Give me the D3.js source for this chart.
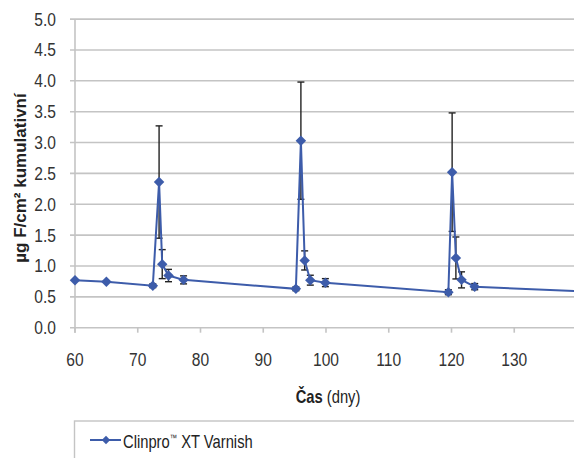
<!DOCTYPE html>
<html>
<head>
<meta charset="utf-8">
<script src="https://cdn.jsdelivr.net/npm/d3@7"></script>
<style>
  body { margin: 0; background: #fff; }
  svg { display: block; font-family: "Liberation Sans", Arial, sans-serif; }
</style>
</head>
<body>
<div id="chart"></div>
<script>
// days after start, cumulative fluoride (ug F/cm2), error (+/-)
const days = [60, 65, 72.4, 73.4, 73.9, 74.9, 77.3, 95.2, 96.0, 96.6, 97.5, 99.9, 119.5, 120.1, 120.7, 121.6, 123.7, 147]
const values = [0.77, 0.745, 0.68, 2.36, 1.03, 0.845, 0.775, 0.63, 3.03, 1.09, 0.77, 0.73, 0.575, 2.52, 1.13, 0.775, 0.665, 0.56]
const errors = [0, 0, 0.03, 0.91, 0.235, 0.1, 0.065, 0.03, 0.95, 0.155, 0.08, 0.065, 0.04, 0.96, 0.34, 0.13, 0.05, 0]
const yTicks = [0, 0.5, 1, 1.5, 2, 2.5, 3, 3.5, 4, 4.5, 5]
const xTicks = [60, 70, 80, 90, 100, 110, 120, 130]
const seriesName = "Clinpro\u2122 XT Varnish"

const WIDTH = 574
const HEIGHT = 458
const BLUE = "#3d5caa"
const GRID = "#c4c4c4"
const NARROW = 0.82 // fake a condensed face

const data = days.map((d, i) => ({ day: d, value: values[i], err: errors[i] }))

const svg = d3.select("#chart").append("svg")
  .attr("width", WIDTH)
  .attr("height", HEIGHT)

const x = d3.scaleLinear().domain([60, 140]).range([75, 577])
const y = d3.scaleLinear().domain([0, 5]).range([327.7, 19.1])

svg.append("defs").append("clipPath").attr("id", "plot")
  .append("rect")
  .attr("x", x(60) - 8).attr("y", 0)
  .attr("width", x(140) - x(60) + 8).attr("height", HEIGHT)

// horizontal grid
svg.append("g").selectAll("line")
  .data(yTicks)
  .enter().append("line")
  .attr("x1", x(60) - 5)
  .attr("x2", x(140))
  .attr("y1", d => y(d))
  .attr("y2", d => y(d))
  .attr("stroke", GRID)
  .attr("stroke-width", 1.6)

// y axis line
svg.append("line")
  .attr("x1", x(60)).attr("x2", x(60))
  .attr("y1", y(5)).attr("y2", y(0) + 5)
  .attr("stroke", GRID)
  .attr("stroke-width", 1.6)

// x ticks
svg.append("g").selectAll("line")
  .data(xTicks)
  .enter().append("line")
  .attr("x1", d => x(d)).attr("x2", d => x(d))
  .attr("y1", y(0)).attr("y2", y(0) + 5)
  .attr("stroke", GRID)
  .attr("stroke-width", 1.6)

svg.append("g").selectAll("text")
  .data(yTicks)
  .enter().append("text")
  .attr("transform", d => `translate(56,${y(d) + 6.5}) scale(${NARROW},1)`)
  .attr("text-anchor", "end")
  .attr("font-size", 19)
  .attr("fill", "#333")
  .text(d3.format(".1f"))

svg.append("g").selectAll("text")
  .data(xTicks)
  .enter().append("text")
  .attr("transform", d => `translate(${x(d)},366) scale(${NARROW},1)`)
  .attr("text-anchor", "middle")
  .attr("font-size", 19)
  .attr("fill", "#333")
  .text(d => d)

// axis titles
const xt = svg.append("text")
  .attr("transform", `translate(328,403) scale(${NARROW},1)`)
  .attr("text-anchor", "middle")
  .attr("font-size", 18)
  .attr("fill", "#222")
xt.append("tspan").attr("font-weight", "bold").text("Čas")
xt.append("tspan").text(" (dny)")

svg.append("text")
  .attr("transform", "translate(26,178) rotate(-90)")
  .attr("text-anchor", "middle")
  .attr("font-size", 17)
  .attr("font-weight", "bold")
  .attr("fill", "#222")
  .text("µg F/cm² kumulativní")

const plot = svg.append("g").attr("clip-path", "url(#plot)")

// error bars
const eb = plot.append("g")
  .selectAll("g")
  .data(data.filter(d => d.err > 0))
  .enter().append("g")
  .attr("stroke", "#222")
  .attr("stroke-width", 1.4)
eb.append("line")
  .attr("x1", d => x(d.day)).attr("x2", d => x(d.day))
  .attr("y1", d => y(d.value - d.err)).attr("y2", d => y(d.value + d.err))
eb.append("line")
  .attr("x1", d => x(d.day) - 3.5).attr("x2", d => x(d.day) + 3.5)
  .attr("y1", d => y(d.value + d.err)).attr("y2", d => y(d.value + d.err))
eb.append("line")
  .attr("x1", d => x(d.day) - 3.5).attr("x2", d => x(d.day) + 3.5)
  .attr("y1", d => y(d.value - d.err)).attr("y2", d => y(d.value - d.err))

const line = d3.line()
  .x(d => x(d.day))
  .y(d => y(d.value))

plot.append("path")
  .datum(data)
  .attr("d", line)
  .attr("fill", "none")
  .attr("stroke", BLUE)
  .attr("stroke-width", 2)

plot.append("g").selectAll("path")
  .data(data)
  .enter().append("path")
  .attr("transform", d => `translate(${x(d.day)},${y(d.value)})`)
  .attr("d", d3.symbol(d3.symbolDiamond2, 70))
  .attr("fill", BLUE)

// legend
svg.append("rect")
  .attr("x", 74.5)
  .attr("y", 421)
  .attr("width", 520)
  .attr("height", 60)
  .attr("fill", "none")
  .attr("stroke", GRID)
  .attr("stroke-width", 1.4)

svg.append("line")
  .attr("x1", 90).attr("x2", 121)
  .attr("y1", 440).attr("y2", 440)
  .attr("stroke", BLUE)
  .attr("stroke-width", 2)
svg.append("path")
  .attr("transform", "translate(106,440)")
  .attr("d", d3.symbol(d3.symbolDiamond2, 45))
  .attr("fill", BLUE)

const lt = svg.append("text")
  .attr("transform", `translate(123,448) scale(${NARROW},1)`)
  .attr("font-size", 18)
  .attr("fill", "#222")
lt.append("tspan").text("Clinpro")
lt.append("tspan").attr("font-size", 9).attr("dy", -7).text("\u2122")
lt.append("tspan").attr("dy", 7).text(" XT Varnish")
</script>
</body>
</html>
